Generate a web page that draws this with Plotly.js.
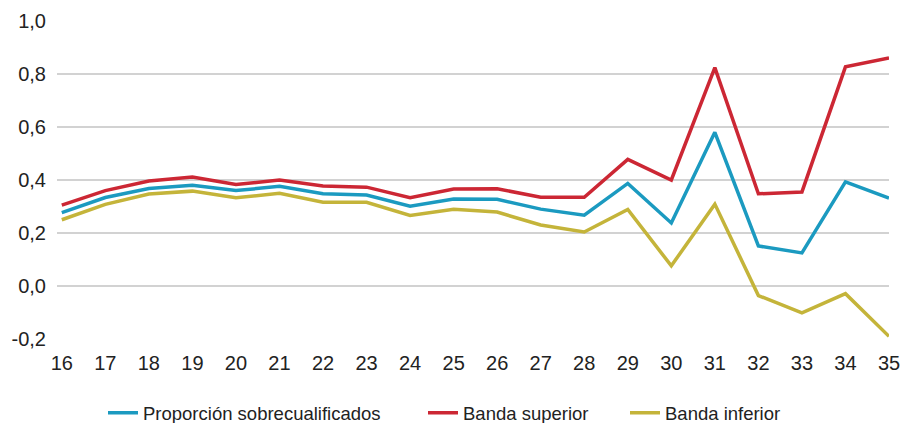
<!DOCTYPE html>
<html>
<head>
<meta charset="utf-8">
<script src="https://cdn.plot.ly/plotly-3.0.1.min.js"></script>
<style>html,body{margin:0;padding:0;background:#fff;}#chart{width:904px;height:423px;}</style>
</head>
<body>
<div id="chart"></div>
<script>
const ages = [16,17,18,19,20,21,22,23,24,25,26,27,28,29,30,31,32,33,34,35];
const proporcion = [0.277,0.334,0.368,0.380,0.360,0.376,0.348,0.343,0.301,0.328,0.327,0.290,0.267,0.387,0.238,0.580,0.151,0.125,0.393,0.332];
const bandaSuperior = [0.305,0.360,0.396,0.411,0.383,0.400,0.377,0.373,0.333,0.366,0.367,0.335,0.335,0.478,0.400,0.824,0.348,0.355,0.827,0.861];
const bandaInferior = [0.250,0.308,0.347,0.358,0.333,0.350,0.316,0.316,0.266,0.290,0.279,0.230,0.204,0.289,0.076,0.309,-0.036,-0.101,-0.029,-0.190];
const names = ["Proporción sobrecualificados","Banda superior","Banda inferior"];
const colors = ["#1b9ac0","#cc2734","#c4b43a"];
const yTicks = [-0.2,0,0.2,0.4,0.6,0.8,1.0];
const yTickText = ["-0,2","0,0","0,2","0,4","0,6","0,8","1,0"];

const series = [proporcion, bandaSuperior, bandaInferior];
const legendIds = ['legend','legend2','legend3'];
const traces = series.map((s,i)=>({
  x: ages, y: s, type:'scatter', mode:'lines', name:names[i],
  line:{color:colors[i], width:3.5}, legend:legendIds[i]
}));

const W = 904, H = 423;
const legendX = [103, 423, 625];
const legendBase = {orientation:'h', xanchor:'left', xref:'container', y:0.023, yanchor:'middle', yref:'container',
                    font:{size:18.5}, bgcolor:'rgba(0,0,0,0)'};

const layout = {
  width:W, height:H,
  margin:{l:57, r:15, t:21, b:84, autoexpand:false},
  paper_bgcolor:'#fff', plot_bgcolor:'#fff',
  font:{family:'Liberation Sans, Arial, sans-serif', color:'#222', size:20},
  xaxis:{range:[15.89,35], tickvals:ages, ticktext:ages.map(String), showgrid:false, zeroline:false,
         showline:false, ticks:'', tickfont:{size:20}, ticklabelstandoff:10},
  yaxis:{range:[-0.2,1.0], tickvals:yTicks, ticktext:yTickText, showgrid:true, gridcolor:'#d2d2d2', gridwidth:2,
         zeroline:false, showline:false, ticks:'', tickfont:{size:20}, ticklabelstandoff:10},
  showlegend:true,
  legend:Object.assign({}, legendBase, {x:legendX[0]/W}),
  legend2:Object.assign({}, legendBase, {x:legendX[1]/W}),
  legend3:Object.assign({}, legendBase, {x:legendX[2]/W})
};
Plotly.newPlot('chart', traces, layout, {displayModeBar:false, staticPlot:true});
</script>
</body>
</html>
